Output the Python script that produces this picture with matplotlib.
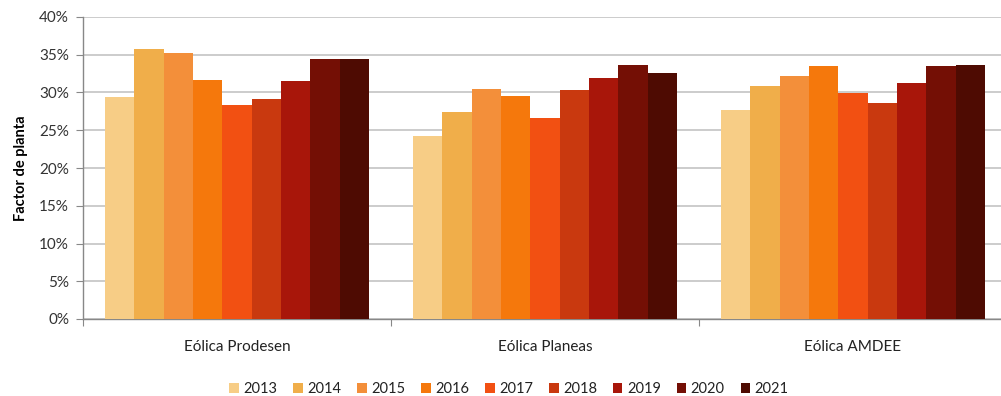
import numpy as np
import matplotlib.pyplot as plt
from matplotlib.ticker import PercentFormatter

plt.rcParams['font.family'] = ['Lato', 'DejaVu Sans']

# factor de planta por escenario y año (%)
escenarios = ['Eólica Prodesen', 'Eólica Planeas', 'Eólica AMDEE']
anios = ['2013', '2014', '2015', '2016', '2017', '2018', '2019', '2020', '2021']
prodesen = [29.4, 35.7, 35.2, 31.6, 28.4, 29.2, 31.5, 34.5, 34.5]
planeas = [24.2, 27.4, 30.5, 29.5, 26.6, 30.3, 31.9, 33.6, 32.6]
amdee = [27.7, 30.8, 32.2, 33.5, 29.9, 28.6, 31.3, 33.5, 33.6]
colores = ['#F7CD86', '#F0AE4A', '#F38F3A', '#F5780C', '#F25012',
           '#C9390F', '#A8160A', '#740F05', '#4E0B02']

valores = np.array([prodesen, planeas, amdee])

fig = plt.figure(figsize=(10.01, 3.96), dpi=100)
ax = fig.add_axes([83 / 1001, 1 - 319 / 396, 924 / 1001, 302 / 396])

n = len(anios)
ancho = 0.0952
x = np.arange(len(escenarios))
for i, anio in enumerate(anios):
    offs = (i - (n - 1) / 2) * ancho
    ax.bar(x + 0.5 + offs, valores[:, i], width=ancho, color=colores[i],
           label=anio, zorder=3, linewidth=0)

ax.set_xlim(0, len(escenarios))
ax.set_ylim(0, 40)
ax.set_yticks(np.arange(0, 41, 5))
ax.yaxis.set_major_formatter(PercentFormatter(decimals=0))
ax.yaxis.grid(True, color='#BFBFBF', linewidth=1.1, zorder=0)

ax.set_xticks(np.arange(len(escenarios) + 1))
ax.set_xticklabels([])
ax.set_xticks(x + 0.5, minor=True)
ax.set_xticklabels(escenarios, minor=True)
ax.tick_params(axis='x', which='major', length=5, color='#888888', direction='out')
ax.tick_params(axis='x', which='minor', length=0, pad=15, labelsize=11, labelcolor='#222222')
ax.tick_params(axis='y', length=5, color='#888888', labelsize=11, labelcolor='#333333', pad=5)

for s in ['top', 'right']:
    ax.spines[s].set_visible(False)
for s in ['left', 'bottom']:
    ax.spines[s].set_color('#888888')
    ax.spines[s].set_linewidth(1)

ax.set_ylabel('Factor de planta', fontsize=10.5, fontweight='bold', labelpad=8)

fig.legend(loc='center', bbox_to_anchor=(509 / 1001, 1 - 389 / 396), ncol=n,
           frameon=False, fontsize=10.5, handlelength=0.65, handleheight=0.65,
           handletextpad=0.3, columnspacing=1.1, labelcolor='#222222')

fig.savefig('out.png', dpi=100)
